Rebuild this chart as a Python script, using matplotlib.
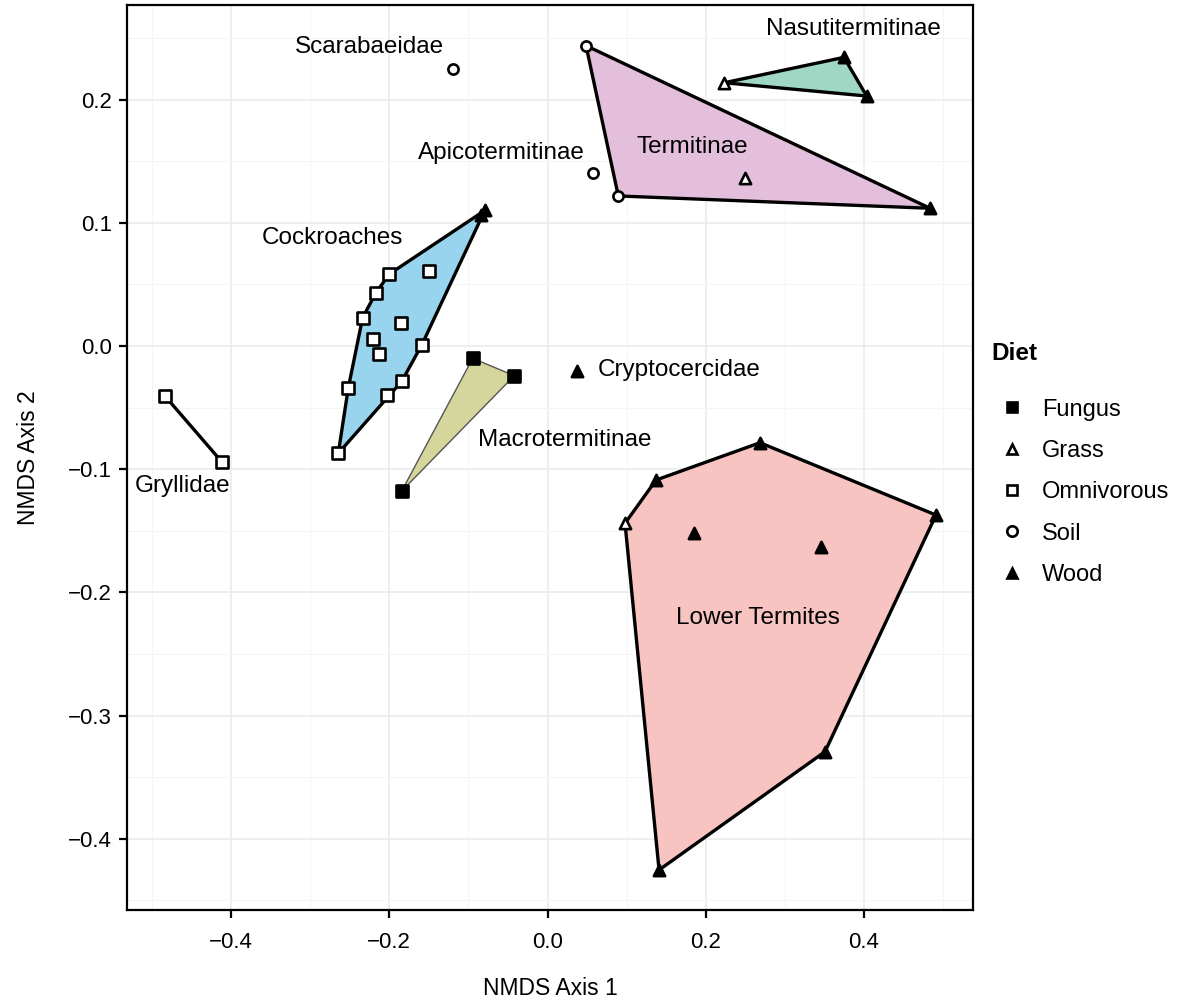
import matplotlib
matplotlib.use("Agg")
import matplotlib.pyplot as plt
from matplotlib.lines import Line2D
import numpy as np

plt.rcParams['font.family'] = ['Liberation Sans', 'DejaVu Sans']

# NMDS scores
cockroach_x = [-0.2645, -0.2518, -0.2337, -0.2168, -0.2000, -0.1494, -0.1856, -0.2202,
               -0.2126, -0.1590, -0.1843, -0.2033, -0.0793, -0.0840]
cockroach_y = [-0.0871, -0.0338, 0.0230, 0.0433, 0.0584, 0.0609, 0.0189, 0.0057,
               -0.0065, 0.0008, -0.0287, -0.0398, 0.1100, 0.1060]
cockroach_diet = ['Omnivorous'] * 12 + ['Wood', 'Wood']

gryllidae_x = [-0.4836, -0.4119]
gryllidae_y = [-0.0406, -0.0939]
gryllidae_diet = ['Omnivorous', 'Omnivorous']

macro_x = [-0.0946, -0.0420, -0.1843]
macro_y = [-0.0100, -0.0241, -0.1177]
macro_diet = ['Fungus', 'Fungus', 'Fungus']

termitinae_x = [0.0487, 0.0895, 0.4836, 0.2497]
termitinae_y = [0.2438, 0.1218, 0.1118, 0.1361]
termitinae_diet = ['Soil', 'Soil', 'Wood', 'Grass']

nasuti_x = [0.2235, 0.3748, 0.4035]
nasuti_y = [0.2137, 0.2343, 0.2029]
nasuti_diet = ['Grass', 'Wood', 'Wood']

lower_x = [0.0980, 0.1372, 0.2686, 0.4911, 0.3508, 0.1410, 0.1852, 0.3454]
lower_y = [-0.1439, -0.1088, -0.0785, -0.1372, -0.3293, -0.4253, -0.1520, -0.1629]
lower_diet = ['Grass', 'Wood', 'Wood', 'Wood', 'Wood', 'Wood', 'Wood', 'Wood']

scarab_x, scarab_y, scarab_diet = [-0.1195], [0.2248], ['Soil']
apico_x, apico_y, apico_diet = [0.0579], [0.1407], ['Soil']
crypto_x, crypto_y, crypto_diet = [0.0377], [-0.0200], ['Wood']

diets = ['Fungus', 'Grass', 'Omnivorous', 'Soil', 'Wood']
diet_marker = {'Fungus': ('s', 'black'), 'Grass': ('^', 'white'),
               'Omnivorous': ('s', 'white'), 'Soil': ('o', 'white'),
               'Wood': ('^', 'black')}


def hull(xs, ys):
    pts = sorted(set(zip(xs, ys)))
    if len(pts) < 3:
        return pts

    def cross(o, a, b):
        return (a[0] - o[0]) * (b[1] - o[1]) - (a[1] - o[1]) * (b[0] - o[0])
    lo, up = [], []
    for p in pts:
        while len(lo) >= 2 and cross(lo[-2], lo[-1], p) <= 0:
            lo.pop()
        lo.append(p)
    for p in reversed(pts):
        while len(up) >= 2 and cross(up[-2], up[-1], p) <= 0:
            up.pop()
        up.append(p)
    return lo[:-1] + up[:-1]


fig = plt.figure(figsize=(11.78, 10.01), dpi=100)
ax = fig.add_axes([127 / 1178, 91 / 1001, 846 / 1178, 905 / 1001])

# filled hulls
polys = [
    (cockroach_x, cockroach_y, '#99d4ee', 'black', 2.4),
    (macro_x, macro_y, '#d5d69b', '#555555', 1.0),
    (termitinae_x, termitinae_y, '#e4bfdb', 'black', 2.4),
    (nasuti_x, nasuti_y, '#9fd7c4', 'black', 2.4),
    (lower_x, lower_y, '#f7c4c2', 'black', 2.4),
]
for xs, ys, fc, ec, lw in polys:
    h = hull(xs, ys)
    ax.fill([p[0] for p in h], [p[1] for p in h], facecolor=fc, edgecolor=ec,
            linewidth=lw, zorder=2, joinstyle='round')

ax.plot(gryllidae_x, gryllidae_y, color='black', linewidth=2.4, zorder=2)

all_x = (cockroach_x + gryllidae_x + macro_x + termitinae_x + nasuti_x + lower_x
         + scarab_x + apico_x + crypto_x)
all_y = (cockroach_y + gryllidae_y + macro_y + termitinae_y + nasuti_y + lower_y
         + scarab_y + apico_y + crypto_y)
all_d = (cockroach_diet + gryllidae_diet + macro_diet + termitinae_diet + nasuti_diet
         + lower_diet + scarab_diet + apico_diet + crypto_diet)
all_x, all_y, all_d = np.array(all_x), np.array(all_y), np.array(all_d)

for d in diets:
    m, fc = diet_marker[d]
    sel = all_d == d
    ax.scatter(all_x[sel], all_y[sel], marker=m, s=66 if m != 'o' else 54,
               facecolor=fc, edgecolor='black', linewidth=1.9, zorder=4)

labels = [
    ('Cockroaches', -0.2725, 0.0877),
    ('Gryllidae', -0.4608, -0.1136),
    ('Scarabaeidae', -0.2257, 0.2427),
    ('Apicotermitinae', -0.0588, 0.1567),
    ('Termitinae', 0.1827, 0.1615),
    ('Nasutitermitinae', 0.3862, 0.2573),
    ('Cryptocercidae', 0.1662, -0.0195),
    ('Macrotermitinae', 0.0221, -0.0763),
    ('Lower Termites', 0.2661, -0.2208),
]
for t, lx, ly in labels:
    ax.text(lx, ly, t, ha='center', va='center', fontsize=17.5, zorder=5)

ax.set_xlim(-0.5316, 0.5379)
ax.set_ylim(-0.4578, 0.2768)
ax.set_xticks([-0.4, -0.2, 0.0, 0.2, 0.4])
ax.set_yticks([-0.4, -0.3, -0.2, -0.1, 0.0, 0.1, 0.2])
ax.set_xticks(np.arange(-0.5, 0.55, 0.1), minor=True)
ax.set_yticks(np.arange(-0.45, 0.28, 0.05), minor=True)
ax.grid(which='major', color='#ebebeb', linewidth=1.2, zorder=0)
ax.grid(which='minor', color='#f5f5f5', linewidth=0.8, zorder=0)
ax.set_axisbelow(True)
ax.tick_params(which='minor', length=0)
ax.tick_params(which='major', length=6, width=1.6, labelsize=16, colors='black')
ax.tick_params(axis='x', pad=10)
ax.tick_params(axis='y', pad=5)
for s in ax.spines.values():
    s.set_linewidth(1.6)
ax.set_xlabel('NMDS Axis 1', fontsize=16.5, labelpad=17)
ax.set_ylabel('NMDS Axis 2', fontsize=16.5, labelpad=20)

handles = []
for d in diets:
    m, fc = diet_marker[d]
    handles.append(Line2D([], [], linestyle='none', marker=m, markersize=7.5,
                          markerfacecolor=fc, markeredgecolor='black',
                          markeredgewidth=1.9, label=d))
leg = fig.legend(handles=handles, title='Diet', loc='upper left',
                 bbox_to_anchor=(970 / 1178, 1 - 321 / 1001), frameon=False,
                 fontsize=17, title_fontproperties={'weight': 'bold', 'size': 17.5},
                 labelspacing=0.82, handletextpad=0.4, handlelength=1.75,
                 alignment='left')
leg._legend_box.sep = 24

fig.savefig('out.png', dpi=100)
